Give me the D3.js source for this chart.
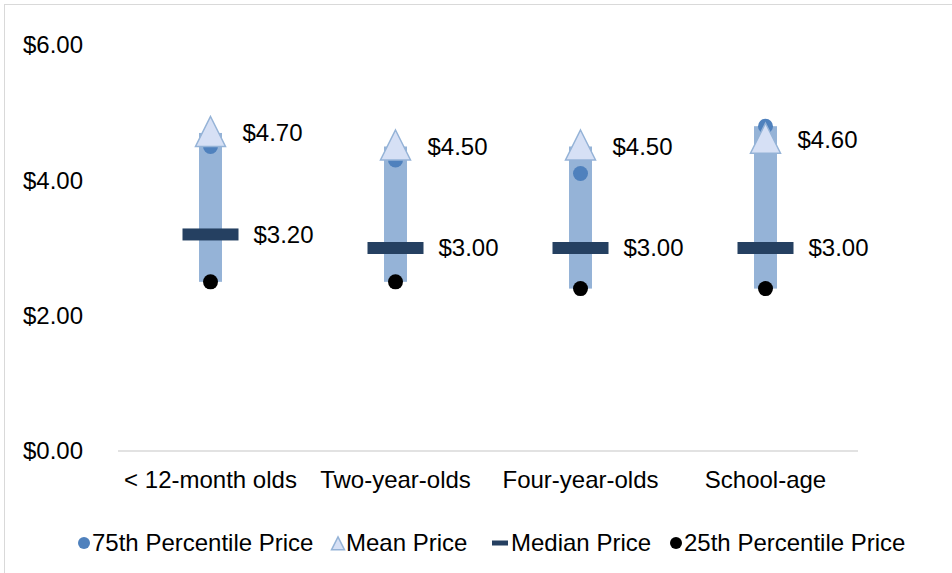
<!DOCTYPE html>
<html>
<head>
<meta charset="utf-8">
<script src="https://cdn.jsdelivr.net/npm/d3@7"></script>
<style>
  body { margin: 0; background: #fff; }
  svg text { font-family: "Liberation Sans", Arial, sans-serif; fill: #000; }
</style>
</head>
<body>
<svg width="952" height="573"></svg>
<script>
var categories = ["< 12-month olds", "Two-year-olds", "Four-year-olds", "School-age"];
var p75 = [4.5, 4.3, 4.1, 4.8];
var meanPrice = [4.7, 4.5, 4.5, 4.6];
var medianPrice = [3.2, 3.0, 3.0, 3.0];
var p25 = [2.5, 2.5, 2.4, 2.4];
var yTicks = [0, 2, 4, 6];
var legendNames = ["75th Percentile Price", "Mean Price", "Median Price", "25th Percentile Price"];

var svg = d3.select("svg");
var fmt = function (v) { return "$" + d3.format(".2f")(v); };
var fs = "24px";

// outer chart border
svg.append("rect")
    .attr("x", 4.5).attr("y", 4.5)
    .attr("width", 980).attr("height", 600)
    .attr("fill", "none").attr("stroke", "#d9d9d9");

var xScale = d3.scaleBand().domain(categories).range([118, 858]);
var yScale = d3.scaleLinear().domain([0, 6]).range([451, 45]);
var cx = function (i) { return xScale(categories[i]) + xScale.bandwidth() / 2; };

// y labels
svg.selectAll(".ylab").data(yTicks).enter().append("text")
    .attr("x", 83)
    .attr("y", function (d) { return yScale(d); })
    .attr("dy", "0.35em")
    .attr("text-anchor", "end")
    .style("font-size", fs)
    .text(fmt);

// base line
svg.append("line")
    .attr("x1", 118).attr("x2", 858)
    .attr("y1", yScale(0)).attr("y2", yScale(0))
    .attr("stroke", "#d9d9d9").attr("stroke-width", 1.3);

// category labels
svg.selectAll(".xlab").data(categories).enter().append("text")
    .attr("x", function (d, i) { return cx(i); })
    .attr("y", 480)
    .attr("dy", "0.35em")
    .attr("text-anchor", "middle")
    .style("font-size", fs)
    .text(function (d) { return d; });

// high-low bars
svg.selectAll(".bar").data(categories).enter().append("rect")
    .attr("x", function (d, i) { return cx(i) - 11.5; })
    .attr("width", 23)
    .attr("y", function (d, i) { return yScale(Math.max(p75[i], meanPrice[i])); })
    .attr("height", function (d, i) {
        return yScale(p25[i]) - yScale(Math.max(p75[i], meanPrice[i]));
    })
    .attr("fill", "#95b3d7");

// 75th percentile
svg.selectAll(".p75").data(p75).enter().append("circle")
    .attr("cx", function (d, i) { return cx(i); })
    .attr("cy", function (d) { return yScale(d); })
    .attr("r", 7.5)
    .attr("fill", "#4f81bd");

// mean triangles
var tri = function (x, y, s) {
    return "M" + x + "," + (y - s * 0.55) + "L" + (x + s / 2) + "," + (y + s * 0.45) +
        "L" + (x - s / 2) + "," + (y + s * 0.45) + "Z";
};
svg.selectAll(".mean").data(meanPrice).enter().append("path")
    .attr("d", function (d, i) { return tri(cx(i), yScale(d), 30); })
    .attr("fill", "#d6e0f5")
    .attr("stroke", "#95b3d7")
    .attr("stroke-width", 1.5);

// median dashes
svg.selectAll(".median").data(medianPrice).enter().append("rect")
    .attr("x", function (d, i) { return cx(i) - 28; })
    .attr("y", function (d) { return yScale(d) - 6; })
    .attr("width", 56).attr("height", 12)
    .attr("fill", "#254061");

// 25th percentile
svg.selectAll(".p25").data(p25).enter().append("circle")
    .attr("cx", function (d, i) { return cx(i); })
    .attr("cy", function (d) { return yScale(d); })
    .attr("r", 7.5)
    .attr("fill", "#000");

// labels
svg.selectAll(".meanlab").data(meanPrice).enter().append("text")
    .attr("x", function (d, i) { return cx(i) + 32; })
    .attr("y", function (d) { return yScale(d); })
    .attr("dy", "0.35em")
    .style("font-size", fs)
    .text(fmt);
svg.selectAll(".medlab").data(medianPrice).enter().append("text")
    .attr("x", function (d, i) { return cx(i) + 43; })
    .attr("y", function (d) { return yScale(d); })
    .attr("dy", "0.35em")
    .style("font-size", fs)
    .text(fmt);

// legend
var legX = [84, 338, 500, 676];
var leg = svg.selectAll(".leg").data(legendNames).enter().append("g")
    .attr("transform", function (d, i) { return "translate(" + legX[i] + ",543)"; });
leg.each(function (d, i) {
    var g = d3.select(this);
    if (i == 0) g.append("circle").attr("r", 6).attr("fill", "#4f81bd");
    if (i == 1) g.append("path").attr("d", tri(0, 1, 13)).attr("fill", "#d6e0f5").attr("stroke", "#95b3d7").attr("stroke-width", 1.5);
    if (i == 2) g.append("rect").attr("x", -8).attr("y", -2.5).attr("width", 16).attr("height", 5).attr("fill", "#254061");
    if (i == 3) g.append("circle").attr("r", 6).attr("fill", "#000");
    g.append("text")
        .attr("x", i == 2 ? 11 : 8)
        .attr("dy", "0.35em")
        .style("font-size", fs)
        .text(d);
});
</script>
</body>
</html>
